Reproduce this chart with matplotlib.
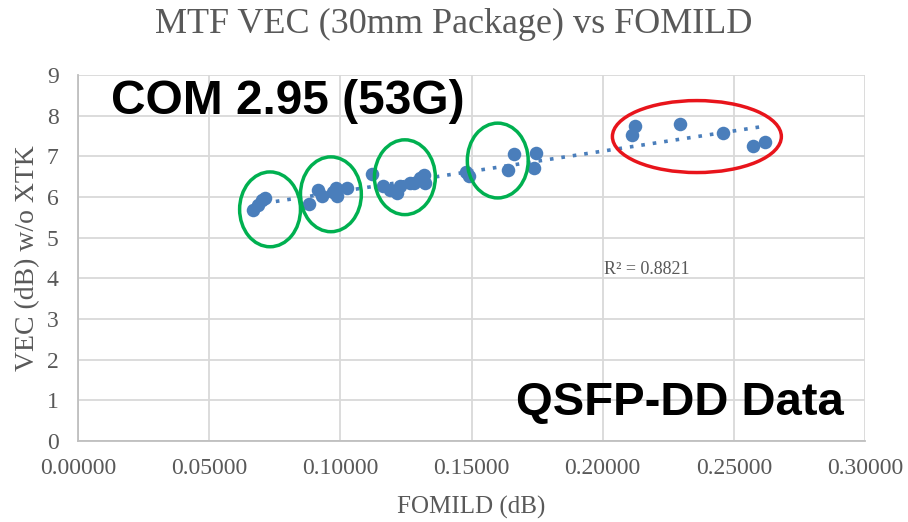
import numpy as np
import matplotlib
matplotlib.use("Agg")
import matplotlib.pyplot as plt
from matplotlib.patches import Ellipse

# FOMILD (dB) vs VEC (dB)
fomild = [0.0667, 0.0686, 0.0701, 0.0713,
          0.0880, 0.0915, 0.0930, 0.0972, 0.0983, 0.0987, 0.1025,
          0.1120, 0.1162, 0.1190, 0.1216, 0.1227, 0.1265, 0.1280, 0.1303, 0.1319, 0.1322,
          0.1479, 0.1490, 0.1639, 0.1662, 0.1738, 0.1745,
          0.2111, 0.2123, 0.2294, 0.2458, 0.2572, 0.2618]
vec = [5.68, 5.80, 5.92, 5.97,
       5.82, 6.17, 6.04, 6.12, 6.22, 6.02, 6.22,
       6.56, 6.27, 6.17, 6.09, 6.27, 6.34, 6.36, 6.46, 6.54, 6.34,
       6.61, 6.51, 6.66, 7.05, 6.71, 7.08,
       7.52, 7.76, 7.81, 7.57, 7.27, 7.35]
x_ticks = [0.0, 0.05, 0.10, 0.15, 0.20, 0.25, 0.30]
y_ticks = list(range(10))

blue = '#4a7ebb'
grey = '#595959'
serif = 'Liberation Serif'

fig = plt.figure(figsize=(9.08, 5.22), dpi=100)
ax = fig.add_axes([0.0859, 0.155, 0.8668, 0.701])

ax.scatter(fomild, vec, s=95, color=blue, zorder=3, linewidths=0)

# linear trendline
k, b = np.polyfit(fomild, vec, 1)
xs = np.array([min(fomild), max(fomild)])
ax.plot(xs, k * xs + b, linestyle=(0, (1, 2.2)), color=blue, lw=2.6, zorder=2)

ax.set_xlim(0, 0.3)
ax.set_ylim(0, 9)
ax.set_xticks(x_ticks)
ax.set_xticklabels([f'{t:.5f}' for t in x_ticks])
ax.set_yticks(y_ticks)
ax.grid(True, color='#d9d9d9', lw=1.3)
ax.set_axisbelow(True)
for s in ['top', 'right']:
    ax.spines[s].set_visible(False)
for s in ['left', 'bottom']:
    ax.spines[s].set_color('#bfbfbf')
    ax.spines[s].set_linewidth(1.3)
ax.tick_params(length=0, labelsize=17, labelcolor=grey)
ax.tick_params(axis='x', pad=12)
ax.tick_params(axis='y', pad=14)
for lab in ax.get_xticklabels() + ax.get_yticklabels():
    lab.set_family(serif)

ax.set_xlabel('FOMILD (dB)', family=serif, fontsize=18, color=grey, labelpad=12)
ax.set_ylabel('VEC (dB) w/o XTK', family=serif, fontsize=20, color=grey, labelpad=5)
fig.suptitle('MTF VEC (30mm Package) vs FOMILD', family=serif, fontsize=26,
             color=grey, y=0.985)

ax.text(0.2005, 4.1, 'R² = 0.8821', family=serif, fontsize=13, color=grey)
ax.text(0.0125, 8.05, 'COM 2.95 (53G)', family='Liberation Sans', fontweight='bold',
        fontsize=34.5, color='black')
ax.text(0.1668, 0.65, 'QSFP-DD Data', family='Liberation Sans', fontweight='bold',
        fontsize=34, color='black')

# highlight ellipses (width in x units, height in y units)
green = '#00b050'
for cx, cy in [(0.0732, 5.70), (0.0964, 6.07), (0.1246, 6.49), (0.1600, 6.90)]:
    ax.add_patch(Ellipse((cx, cy), 0.0232, 1.84, angle=0, fill=False,
                         edgecolor=green, lw=2.5, zorder=4))
ax.add_patch(Ellipse((0.2359, 7.49), 0.0644, 1.77, fill=False,
                     edgecolor='#e8141b', lw=2.5, zorder=4))

fig.savefig('out.png', dpi=100)
